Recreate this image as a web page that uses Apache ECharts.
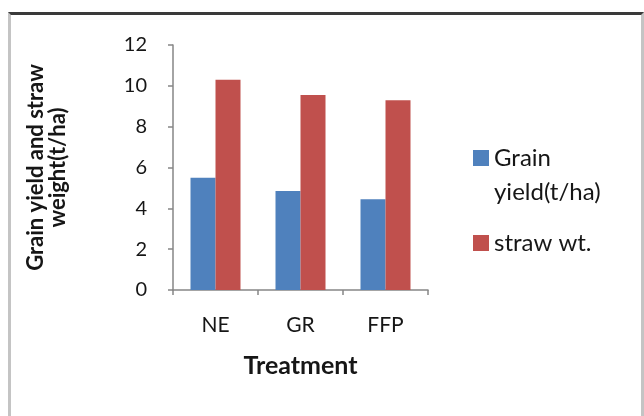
<!DOCTYPE html>
<html>
<head>
<meta charset="utf-8">
<script src="https://cdn.jsdelivr.net/npm/echarts@6/dist/echarts.min.js"></script>
<style>
html,body{margin:0;padding:0;background:#fff;}
#frame{position:absolute;left:8px;top:12px;width:630px;height:420px;border-top:3px solid #3a3a3a;border-left:3px solid #c4c4c4;border-right:3px solid #c4c4c4;}
#chart{position:absolute;left:0;top:0;width:644px;height:416px;}
</style>
</head>
<body>
<div id="frame"></div>
<div id="chart"></div>
<script>
const categories = ['NE', 'GR', 'FFP'];
const grainYield = [5.5, 4.85, 4.45];
const strawWt = [10.3, 9.55, 9.3];
const yTicks = [0, 2, 4, 6, 8, 10, 12];
const seriesNames = ['Grain yield(t/ha)', 'straw wt.'];
const legendLabels = {'Grain yield(t/ha)': '\nGrain\nyield(t/ha)', 'straw wt.': 'straw wt.'};

const FONT = 'Lato';
const TXT = '#161616';
const chart = echarts.init(document.getElementById('chart'));
chart.setOption({
  animation: false,
  backgroundColor: 'transparent',
  textStyle: {fontFamily: FONT},
  grid: {left: 173, right: 216, top: 45, bottom: 126, containLabel: false},
  legend: {
    orient: 'vertical',
    left: 468,
    top: 102,
    itemWidth: 16,
    itemHeight: 16,
    itemGap: 17,
    icon: 'rect',
    data: seriesNames,
    formatter: n => legendLabels[n],
    textStyle: {fontFamily: FONT, fontSize: 24, color: TXT, lineHeight: 34},
  },
  xAxis: {
    type: 'category',
    data: categories,
    name: 'Treatment',
    nameLocation: 'middle',
    nameGap: 63,
    nameTextStyle: {fontFamily: FONT, fontSize: 25, fontWeight: 'bold', color: TXT},
    axisLine: {lineStyle: {color: '#868686', width: 1.5}},
    axisTick: {show: true, length: 5, lineStyle: {color: '#868686', width: 1.5}},
    axisLabel: {margin: 25, fontSize: 21, color: TXT, fontFamily: FONT}
  },
  yAxis: {
    type: 'value',
    min: yTicks[0],
    max: yTicks[yTicks.length - 1],
    interval: 2,
    name: 'Grain yield and straw\nweight(t/ha)',
    nameLocation: 'middle',
    nameRotate: 90,
    nameGap: 104,
    nameTextStyle: {fontFamily: FONT, fontSize: 22, fontWeight: 'bold', color: TXT, lineHeight: 22},
    axisLine: {show: true, lineStyle: {color: '#868686', width: 1.5}},
    axisTick: {show: true, length: 5, lineStyle: {color: '#868686', width: 1.5}},
    splitLine: {show: false},
    axisLabel: {margin: 26, fontSize: 20, color: TXT, fontFamily: FONT}
  },
  series: [
    {name: seriesNames[0], type: 'bar', data: grainYield, barWidth: 25, barGap: '0%', itemStyle: {color: '#4F81BD'}},
    {name: seriesNames[1], type: 'bar', data: strawWt, barWidth: 25, barGap: '0%', itemStyle: {color: '#C0504D'}}
  ]
});
</script>
</body>
</html>
